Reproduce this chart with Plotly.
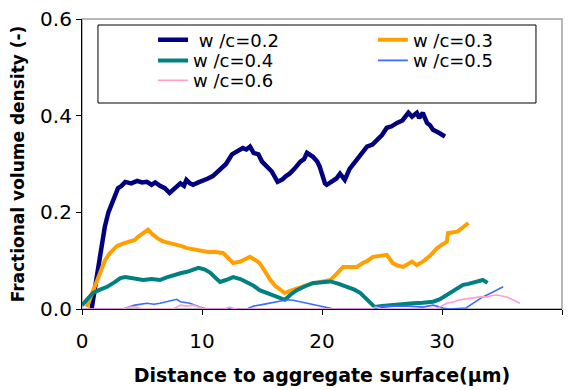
import plotly.graph_objects as go

# Fractional volume density profiles vs. distance to aggregate surface
wc02_x = [0.8, 1.0, 1.25, 1.6, 1.9, 2.2, 2.6, 3.0, 3.3, 3.6, 4.1, 4.6, 5.0, 5.4, 5.8, 6.1, 6.5, 6.9, 7.3, 7.7,
          8.2, 8.5, 8.7, 9.0, 9.25, 9.7, 10.1, 10.5, 10.9, 11.25, 11.6, 12.0, 12.5, 12.9, 13.4, 13.7, 14.0, 14.3,
          14.7, 15.0, 15.4, 15.8, 16.3, 16.7, 17.0, 17.3, 17.7, 18.2, 18.5, 18.75, 19.25, 19.6, 19.8, 20.1, 20.25,
          20.4, 20.8, 21.2, 21.5, 21.9, 22.3, 22.9, 23.3, 23.75, 24.2, 24.6, 25.0, 25.4, 25.8, 26.25, 26.7, 27.2,
          27.5, 27.9, 28.1, 28.4, 28.75, 29.0, 29.25, 29.7, 30.0, 30.25]
wc02_y = [0.0, 0.03, 0.08, 0.13, 0.17, 0.20, 0.225, 0.25, 0.255, 0.263, 0.26, 0.265, 0.262, 0.263, 0.257, 0.262,
          0.255, 0.25, 0.24, 0.25, 0.26, 0.255, 0.267, 0.26, 0.257, 0.262, 0.265, 0.27, 0.275, 0.284, 0.29, 0.30,
          0.32, 0.325, 0.333, 0.33, 0.336, 0.323, 0.32, 0.305, 0.295, 0.285, 0.263, 0.268, 0.275, 0.28, 0.29, 0.305,
          0.31, 0.323, 0.315, 0.305, 0.295, 0.275, 0.26, 0.257, 0.265, 0.27, 0.28, 0.267, 0.29, 0.309, 0.32, 0.336,
          0.34, 0.35, 0.36, 0.375, 0.378, 0.385, 0.39, 0.406, 0.398, 0.406, 0.395, 0.406, 0.385, 0.38, 0.371,
          0.365, 0.36, 0.357]

wc03_x = [0.4, 0.8, 1.1, 1.5, 1.9, 2.3, 2.6, 2.9, 3.4, 4.0, 4.4, 4.7, 5.1, 5.5, 5.9, 6.3, 6.75, 7.3, 7.9, 8.3,
          8.75, 9.2, 9.6, 10.0, 10.5, 11.1, 11.75, 12.2, 12.6, 13.2, 13.6, 14.0, 14.4, 14.8, 15.2, 15.7, 16.1,
          16.5, 16.9, 17.4, 17.9, 18.2, 18.8, 19.3, 19.8, 20.2, 20.7, 21.2, 21.75, 22.3, 22.9, 23.4, 23.8, 24.25,
          24.8, 25.4, 25.9, 26.3, 26.75, 27.1, 27.5, 27.9, 28.4, 29.0, 29.6, 30.0, 30.4, 30.5, 30.9, 31.3, 31.7, 32.2]
wc03_y = [0.004, 0.03, 0.05, 0.075, 0.10, 0.115, 0.122, 0.13, 0.135, 0.14, 0.143, 0.15, 0.158, 0.164, 0.154,
          0.146, 0.14, 0.137, 0.133, 0.13, 0.126, 0.124, 0.122, 0.12, 0.118, 0.118, 0.116, 0.105, 0.095, 0.098,
          0.104, 0.108, 0.102, 0.095, 0.08, 0.06, 0.048, 0.04, 0.033, 0.038, 0.043, 0.046, 0.05, 0.053, 0.056,
          0.058, 0.06, 0.072, 0.087, 0.087, 0.087, 0.095, 0.10, 0.108, 0.11, 0.112, 0.095, 0.09, 0.087, 0.093,
          0.098, 0.091, 0.098, 0.11, 0.126, 0.133, 0.139, 0.157, 0.158, 0.16, 0.168, 0.178]

wc04_x = [0.0, 0.4, 0.9, 1.5, 2.1, 2.7, 3.2, 3.6, 4.0, 4.6, 5.1, 5.8, 6.5, 7.0, 7.6, 8.2, 8.75, 9.2, 9.7, 10.2,
          10.7, 11.1, 11.5, 12.0, 12.6, 13.2, 13.75, 14.3, 14.8, 15.4, 15.9, 16.4, 16.9, 17.4, 17.9, 18.6, 19.25,
          19.8, 20.4, 20.7, 21.4, 22.1, 22.7, 23.2, 23.8, 24.4, 25.0, 25.7, 26.6, 27.6, 28.4, 29.25, 29.8, 30.4,
          31.1, 31.75, 32.2, 32.6, 33.0, 33.4, 33.8]
wc04_y = [0.008, 0.02, 0.033, 0.04, 0.046, 0.055, 0.064, 0.066, 0.064, 0.062, 0.06, 0.062, 0.06, 0.065, 0.07,
          0.074, 0.077, 0.08, 0.085, 0.082, 0.075, 0.065, 0.056, 0.06, 0.066, 0.062, 0.056, 0.048, 0.039, 0.033,
          0.029, 0.024, 0.019, 0.03, 0.039, 0.047, 0.054, 0.055, 0.056, 0.057, 0.052, 0.046, 0.04, 0.033, 0.018,
          0.004, 0.006, 0.008, 0.01, 0.012, 0.013, 0.015, 0.02, 0.029, 0.04, 0.05, 0.052, 0.054, 0.058, 0.06, 0.054]

wc05_x = [0, 3.4, 3.9, 4.4, 5.4, 6.0, 6.5, 7.2, 7.9, 8.2, 9.0, 9.8, 10.4, 13.75, 14.3, 15.0, 15.7, 16.5, 17.1,
          17.6, 18.2, 18.7, 19.25, 20.0, 20.7, 21.0, 24.25, 24.8, 25.4, 26.3, 27.3, 28.4, 29.25, 30.1, 30.6, 32.0,
          32.6, 33.0, 33.4, 34.25, 34.7, 35.1]
wc05_y = [0, 0, 0.004, 0.008, 0.012, 0.01, 0.012, 0.016, 0.02, 0.015, 0.012, 0.004, 0, 0, 0.006, 0.009, 0.012,
          0.016, 0.019, 0.018, 0.015, 0.013, 0.01, 0.006, 0.002, 0, 0, 0.004, 0.006, 0.006, 0.006, 0.004, 0.008,
          0.002, 0, 0.002, 0.012, 0.018, 0.025, 0.035, 0.04, 0.046]

wc06_x = [0, 3.4, 4.0, 4.5, 5.0, 7.6, 8.2, 8.7, 9.25, 9.8, 10.2, 11.8, 12.3, 12.8, 24.0, 24.5, 25.0, 29.5, 30.1,
          30.4, 31.0, 31.5, 32.0, 32.6, 33.2, 33.75, 34.2, 34.6, 35.0, 35.4, 35.9, 36.5]
wc06_y = [0, 0, 0.004, 0.004, 0, 0, 0.008, 0.006, 0.008, 0.004, 0, 0, 0.004, 0, 0, 0.004, 0, 0, 0.008, 0.012,
          0.015, 0.019, 0.021, 0.023, 0.025, 0.025, 0.028, 0.029, 0.027, 0.025, 0.019, 0.012]

# name, x, y, colour, width, legend id, legend slot (x, y in paper units)
series = [
    ("\u00a0w /c=0.2", wc02_x, wc02_y, "#000080", 4.5, "legend", (0.148, 0.991)),
    ("w /c=0.3", wc03_x, wc03_y, "#FFA000", 4, "legend2", (0.606, 0.991)),
    ("w /c=0.4", wc04_x, wc04_y, "#008080", 4, "legend3", (0.148, 0.920)),
    ("w /c=0.5", wc05_x, wc05_y, "#3D6BFF", 1.6, "legend4", (0.606, 0.920)),
    ("w /c=0.6", wc06_x, wc06_y, "#FF9FCF", 1.6, "legend5", (0.148, 0.851)),
]

FONT = "DejaVu Sans, Liberation Sans, Arial, sans-serif"

fig = go.Figure()
legends = {}
for name, xs, ys, color, width, lg, (lx, ly) in series:
    fig.add_trace(go.Scatter(x=xs, y=ys, mode="lines", name=name, legend=lg,
                             line=dict(color=color, width=width)))
    legends[lg] = dict(x=lx, y=ly, xanchor="left", yanchor="top",
                       bgcolor="rgba(0,0,0,0)", borderwidth=0,
                       font=dict(family=FONT, size=18, color="black"))

fig.update_layout(
    width=574, height=390,
    margin=dict(l=82, r=12, t=19, b=81, autoexpand=False),
    paper_bgcolor="white", plot_bgcolor="white",
    font=dict(family=FONT, color="black", size=20),
    showlegend=True,
    shapes=[
        # plot-area frame (grey on top/right)
        dict(type="rect", xref="paper", yref="paper", x0=0, x1=1, y0=0, y1=1,
             line=dict(color="#A0A0A0", width=1.5), layer="below"),
        # legend box
        dict(type="rect", xref="paper", yref="paper", x0=0.0333, x1=0.9458, y0=0.7103, y1=0.9793,
             line=dict(color="black", width=1), fillcolor="rgba(0,0,0,0)", layer="above"),
    ],
    **legends,
)

fig.update_xaxes(
    range=[0, 40], tickvals=[0, 10, 20, 30, 40], showgrid=False, zeroline=False,
    showline=True, linecolor="black", linewidth=1.2, ticks="outside", ticklen=5,
    tickcolor="black", tickfont=dict(size=20), ticklabelstandoff=9, automargin=False,
    title=dict(text="<b>Distance to aggregate surface(\u03bcm)</b>", font=dict(size=19), standoff=16),
)
fig.update_yaxes(
    range=[0, 0.6], tickvals=[0, 0.2, 0.4, 0.6], tickformat=".1f", showgrid=False, zeroline=False,
    showline=True, linecolor="black", linewidth=1.2, ticks="outside", ticklen=5,
    tickcolor="black", tickfont=dict(size=20), ticklabelstandoff=0, automargin=False,
    title=dict(text="<b>Fractional volume density (-)</b>", font=dict(size=17), standoff=11),
)

fig.write_html("out.html")
